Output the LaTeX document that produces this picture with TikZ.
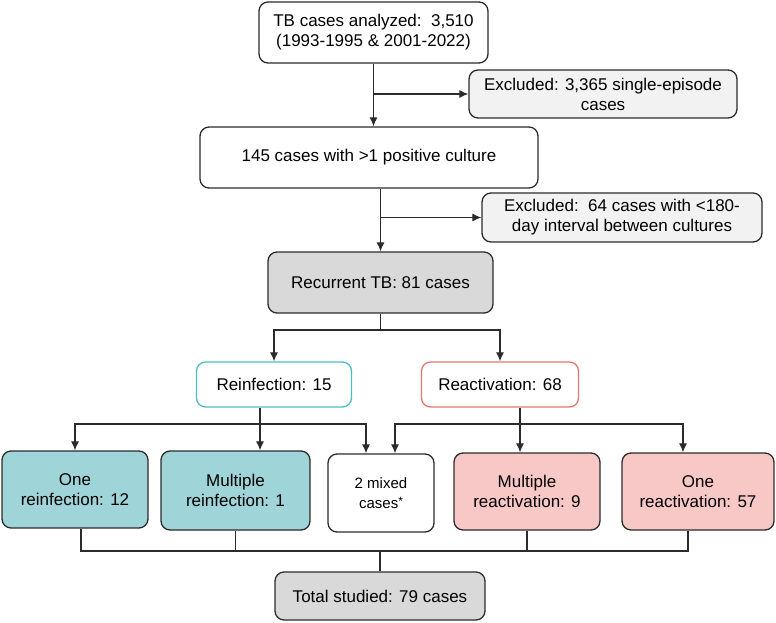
\documentclass[tikz,border=0pt]{standalone}
\usepackage{fontspec}
\setmainfont{Liberation Sans}
\usetikzlibrary{positioning, arrows.meta}

\definecolor{boxline}{HTML}{2B2B2B}
\definecolor{grayfill}{HTML}{D9D9D9}
\definecolor{lightfill}{HTML}{F2F2F2}
\definecolor{reinfline}{HTML}{4DBDC2}
\definecolor{reinffill}{HTML}{9FD4D9}
\definecolor{reactline}{HTML}{E2786E}
\definecolor{reactfill}{HTML}{F8C8C6}

\begin{document}
\begin{tikzpicture}[
    x=1pt, y=-1pt,
    font=\fontsize{17}{20}\selectfont,
    box/.style={
        draw=boxline, line width=1.3pt, rounded corners=9pt,
        inner sep=0pt, align=center
    },
    excluded/.style={box, fill=lightfill},
    recurrent/.style={box, fill=grayfill},
    reinf/.style={box, draw=reinfline},
    react/.style={box, draw=reactline},
    reinfcase/.style={box, fill=reinffill},
    reactcase/.style={box, fill=reactfill},
    flow/.style={-{Latex[length=9pt,width=8pt]}, line width=1.1pt, draw=boxline},
    link/.style={line width=1.1pt, draw=boxline}
]
\useasboundingbox (0,0) rectangle (776,623);

% ===== SCREENING =====
\node[box, minimum width=229pt, minimum height=61pt] (analyzed) at (373.5,32.5)
{TB cases analyzed:\ \ 3,510\\(1993-1995 \& 2001-2022)};

\node[excluded, minimum width=268pt, minimum height=48pt] (excl1) at (603,94)
{Excluded: 3,365 single-episode\\cases};

\node[box, minimum width=338pt, minimum height=61pt] (culture) at (369,157.5)
{145 cases with >1 positive culture};

\node[excluded, minimum width=280pt, minimum height=49pt] (excl2) at (622,217.5)
{Excluded:\ \ 64 cases with <180-\\day interval between cultures};

\node[recurrent, minimum width=225pt, minimum height=61pt] (recurrent) at (380.5,282.5)
{Recurrent TB: 81 cases};

% ===== CLASSIFICATION =====
\node[reinf, minimum width=155pt, minimum height=45pt] (reinf) at (274,384.5)
{Reinfection: 15};
\node[react, minimum width=157pt, minimum height=45pt] (react) at (500,384.5)
{Reactivation: 68};

% ===== EPISODES =====
\node[reinfcase, minimum width=146pt, minimum height=77pt] (oneinf) at (75,489.5)
{One\\reinfection: 12};
\node[reinfcase, minimum width=149pt, minimum height=79pt] (multinf) at (235.5,490.5)
{Multiple\\reinfection: 1};
\node[box, minimum width=106pt, minimum height=78pt,
      font=\fontsize{15}{20}\selectfont] (mixed) at (381,493)
{2 mixed\\cases\raisebox{3pt}{\fontsize{12}{12}\selectfont *}};
\node[reactcase, minimum width=146pt, minimum height=77pt] (multreact) at (527,491.5)
{Multiple\\reactivation: 9};
\node[reactcase, minimum width=152pt, minimum height=77pt] (onereact) at (698,491.5)
{One\\reactivation: 57};

\node[recurrent, minimum width=210pt, minimum height=48pt] (total) at (380,596)
{Total studied: 79 cases};

% ===== SCREENING FLOWS =====
\draw[flow] (analyzed.south) -- (analyzed.south |- culture.north);
\coordinate (split0) at (analyzed.south |- excl1.west);
\draw[flow] (split0) -- (excl1.west);

\draw[flow] (recurrent.north |- culture.south) -- (recurrent.north);
\coordinate (split1) at (recurrent.north |- excl2.west);
\draw[flow] (split1) -- (excl2.west);

% ===== CLASSIFICATION FLOWS =====
\coordinate (split2) at (380.5,330);
\draw[link] (recurrent.south) -- (split2);
\draw[flow] (split2) -| (reinf.north);
\draw[flow] (split2) -| (react.north);

\coordinate (split3) at (260,424);
\draw[link] (split3 |- reinf.south) -- (split3);
\draw[flow] (split3) -| (oneinf.north);
\draw[flow] (split3) -- (split3 |- multinf.north);
\draw[flow] (split3) -| ([xshift=-15pt]mixed.north);

\coordinate (split4) at (520,424);
\draw[link] (split4 |- react.south) -- (split4);
\draw[flow] (split4) -| ([xshift=14pt]mixed.north);
\draw[flow] (split4) -- (split4 |- multreact.north);
\draw[flow] (split4) -| ([xshift=-15pt]onereact.north);

% ===== TOTAL =====
\coordinate (join) at (380,551);
\draw[link] ([xshift=6pt]oneinf.south) |- (join) -| ([xshift=-10pt]onereact.south);
\draw[link] (multinf.south) -- (multinf.south |- join);
\draw[link] (multreact.south) -- (multreact.south |- join);
\draw[link] (join) -- (total.north);

\end{tikzpicture}
\end{document}
